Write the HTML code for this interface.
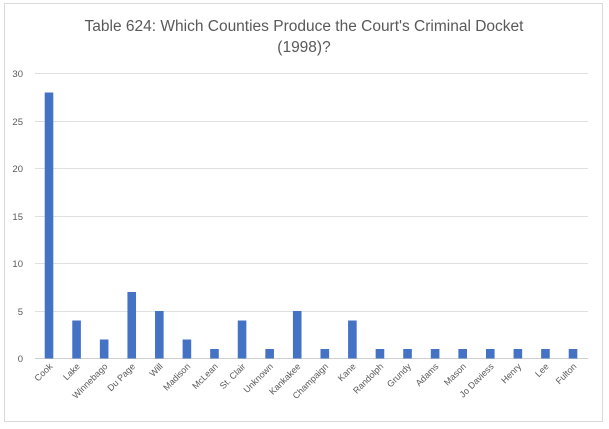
<!DOCTYPE html>
<html><head><meta charset="utf-8"><style>
html,body{margin:0;padding:0;background:#fff;}
svg{display:block;font-family:"Liberation Sans",sans-serif;}
</style></head><body>
<svg width="609" height="429" xmlns="http://www.w3.org/2000/svg">
<rect x="4.5" y="3.5" width="598" height="418" fill="#fff" stroke="#d9d9d9"/>
<text x="304" y="31" text-anchor="middle" font-size="15.5" fill="#595959">Table 624: Which Counties Produce the Court's Criminal Docket</text>
<text x="304" y="52" text-anchor="middle" font-size="15.5" fill="#595959">(1998)?</text>
<g stroke="#e0e0e0" stroke-width="1">
<line x1="35" x2="588" y1="73.5" y2="73.5"/>
<line x1="35" x2="588" y1="121.5" y2="121.5"/>
<line x1="35" x2="588" y1="168.5" y2="168.5"/>
<line x1="35" x2="588" y1="216.5" y2="216.5"/>
<line x1="35" x2="588" y1="263.5" y2="263.5"/>
<line x1="35" x2="588" y1="311.5" y2="311.5"/>
</g>
<line x1="35" x2="588" y1="358.5" y2="358.5" stroke="#d0d0d0"/>
<g font-size="9.5" fill="#595959" text-anchor="end">
<text x="23" y="77">30</text><text x="23" y="125">25</text><text x="23" y="172">20</text>
<text x="23" y="220">15</text><text x="23" y="267">10</text><text x="23" y="315">5</text><text x="23" y="362">0</text>
</g>
<g fill="#4472c4">
<rect x="44.7" y="92.5" width="8.6" height="266"/>
<rect x="72.28" y="320.5" width="8.6" height="38"/>
<rect x="99.86" y="339.5" width="8.6" height="19"/>
<rect x="127.44" y="292" width="8.6" height="66.5"/>
<rect x="155.02" y="311" width="8.6" height="47.5"/>
<rect x="182.6" y="339.5" width="8.6" height="19"/>
<rect x="210.18" y="349" width="8.6" height="9.5"/>
<rect x="237.76" y="320.5" width="8.6" height="38"/>
<rect x="265.34" y="349" width="8.6" height="9.5"/>
<rect x="292.92" y="311" width="8.6" height="47.5"/>
<rect x="320.5" y="349" width="8.6" height="9.5"/>
<rect x="348.08" y="320.5" width="8.6" height="38"/>
<rect x="375.66" y="349" width="8.6" height="9.5"/>
<rect x="403.24" y="349" width="8.6" height="9.5"/>
<rect x="430.82" y="349" width="8.6" height="9.5"/>
<rect x="458.4" y="349" width="8.6" height="9.5"/>
<rect x="485.98" y="349" width="8.6" height="9.5"/>
<rect x="513.56" y="349" width="8.6" height="9.5"/>
<rect x="541.14" y="349" width="8.6" height="9.5"/>
<rect x="568.72" y="349" width="8.6" height="9.5"/>
</g>
<g font-size="9" fill="#595959" text-anchor="end">
<text transform="translate(53,367) rotate(-45)">Cook</text>
<text transform="translate(80.58,367) rotate(-45)">Lake</text>
<text transform="translate(108.16,367) rotate(-45)">Winnebago</text>
<text transform="translate(135.74,367) rotate(-45)">Du Page</text>
<text transform="translate(163.32,367) rotate(-45)">Will</text>
<text transform="translate(190.9,367) rotate(-45)">Madison</text>
<text transform="translate(218.48,367) rotate(-45)">McLean</text>
<text transform="translate(246.06,367) rotate(-45)">St. Clair</text>
<text transform="translate(273.64,367) rotate(-45)">Unknown</text>
<text transform="translate(301.22,367) rotate(-45)">Kankakee</text>
<text transform="translate(328.8,367) rotate(-45)">Champaign</text>
<text transform="translate(356.38,367) rotate(-45)">Kane</text>
<text transform="translate(383.96,367) rotate(-45)">Randolph</text>
<text transform="translate(411.54,367) rotate(-45)">Grundy</text>
<text transform="translate(439.12,367) rotate(-45)">Adams</text>
<text transform="translate(466.7,367) rotate(-45)">Mason</text>
<text transform="translate(494.28,367) rotate(-45)">Jo Daviess</text>
<text transform="translate(521.86,367) rotate(-45)">Henry</text>
<text transform="translate(549.44,367) rotate(-45)">Lee</text>
<text transform="translate(577.02,367) rotate(-45)">Fulton</text>
</g>
</svg>
</body></html>
